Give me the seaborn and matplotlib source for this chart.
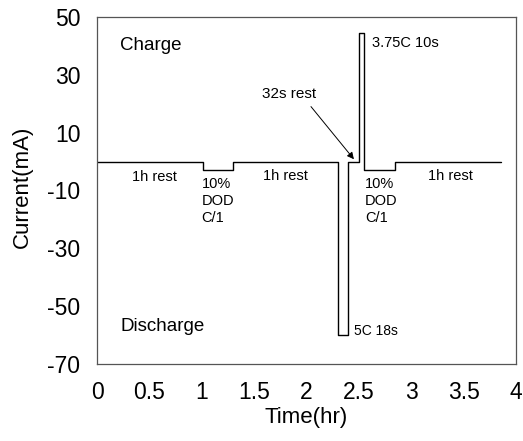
import matplotlib
matplotlib.use("Agg")
import matplotlib.pyplot as plt
import seaborn as sns
import pandas as pd

# step profile: start time of each segment (hr) and current (mA)
seg_time = [0.0, 1.01, 1.30, 2.30, 2.40, 2.50, 2.55, 2.85, 3.86]
seg_current = [0.0, -3.0, 0.0, -60.0, 0.0, 44.5, -3.0, 0.0, 0.0]

x_ticks = [0, 0.5, 1, 1.5, 2, 2.5, 3, 3.5, 4]
x_tick_labels = ["0", "0.5", "1", "1.5", "2", "2.5", "3", "3.5", "4"]
y_ticks = [-70, -50, -30, -10, 10, 30, 50]

sns.set_style("white")
plt.rcParams["font.family"] = ["Liberation Sans", "DejaVu Sans"]
plt.rcParams["axes.unicode_minus"] = False
plt.rcParams["text.color"] = "black"
plt.rcParams["axes.labelcolor"] = "black"

df = pd.DataFrame({"Time(hr)": seg_time, "Current(mA)": seg_current})

fig = plt.figure(figsize=(5.23, 4.41), dpi=100)
ax = fig.add_axes([0.1855, 0.1746, 0.801, 0.787])
sns.lineplot(data=df, x="Time(hr)", y="Current(mA)", ax=ax, color="black",
             linewidth=1.0, drawstyle="steps-post", estimator=None, sort=False)

ax.set_xlim(0, 4)
ax.set_ylim(-70, 50)
ax.set_xticks(x_ticks)
ax.set_xticklabels(x_tick_labels)
ax.set_yticks(y_ticks)
ax.tick_params(axis="both", direction="in", length=5, width=0.8, color="#555555",
               labelsize=16.5, labelcolor="black")
ax.tick_params(axis="x", pad=12)
ax.tick_params(axis="y", pad=12)
for s in ax.spines.values():
    s.set_color("#555555")
    s.set_linewidth(0.9)

ax.set_xlabel("Time(hr)", fontsize=16)
ax.set_ylabel("Current(mA)", fontsize=16)
ax.xaxis.set_label_coords(0.5, -0.125)
ax.yaxis.set_label_coords(-0.153, 0.511)

fs = 10.5
ax.text(0.22, 40, "Charge", fontsize=13.5, ha="left", va="center")
ax.text(0.22, -57.2, "Discharge", fontsize=13.5, ha="left", va="center")
ax.text(0.55, -6.6, "1h rest", fontsize=fs, ha="center", va="baseline")
ax.text(1.80, -6.4, "1h rest", fontsize=fs, ha="center", va="baseline")
ax.text(3.37, -6.4, "1h rest", fontsize=fs, ha="center", va="baseline")
ax.text(1.00, -21.0, "10%\nDOD\nC/1", fontsize=fs, ha="left", va="baseline", linespacing=1.3)
ax.text(2.56, -21.0, "10%\nDOD\nC/1", fontsize=fs, ha="left", va="baseline", linespacing=1.3)
ax.text(2.455, -60, "5C 18s", fontsize=10, ha="left", va="baseline")
ax.text(2.63, 39.5, "3.75C 10s", fontsize=fs, ha="left", va="baseline")
ax.text(1.58, 21.9, "32s rest", fontsize=11, ha="left", va="baseline")
ax.annotate("", xy=(2.453, 0.8), xytext=(2.043, 19.0),
            arrowprops=dict(arrowstyle="-|>", color="black", lw=0.7,
                            mutation_scale=10, shrinkA=0, shrinkB=0))

fig.savefig("out.png", dpi=100)
